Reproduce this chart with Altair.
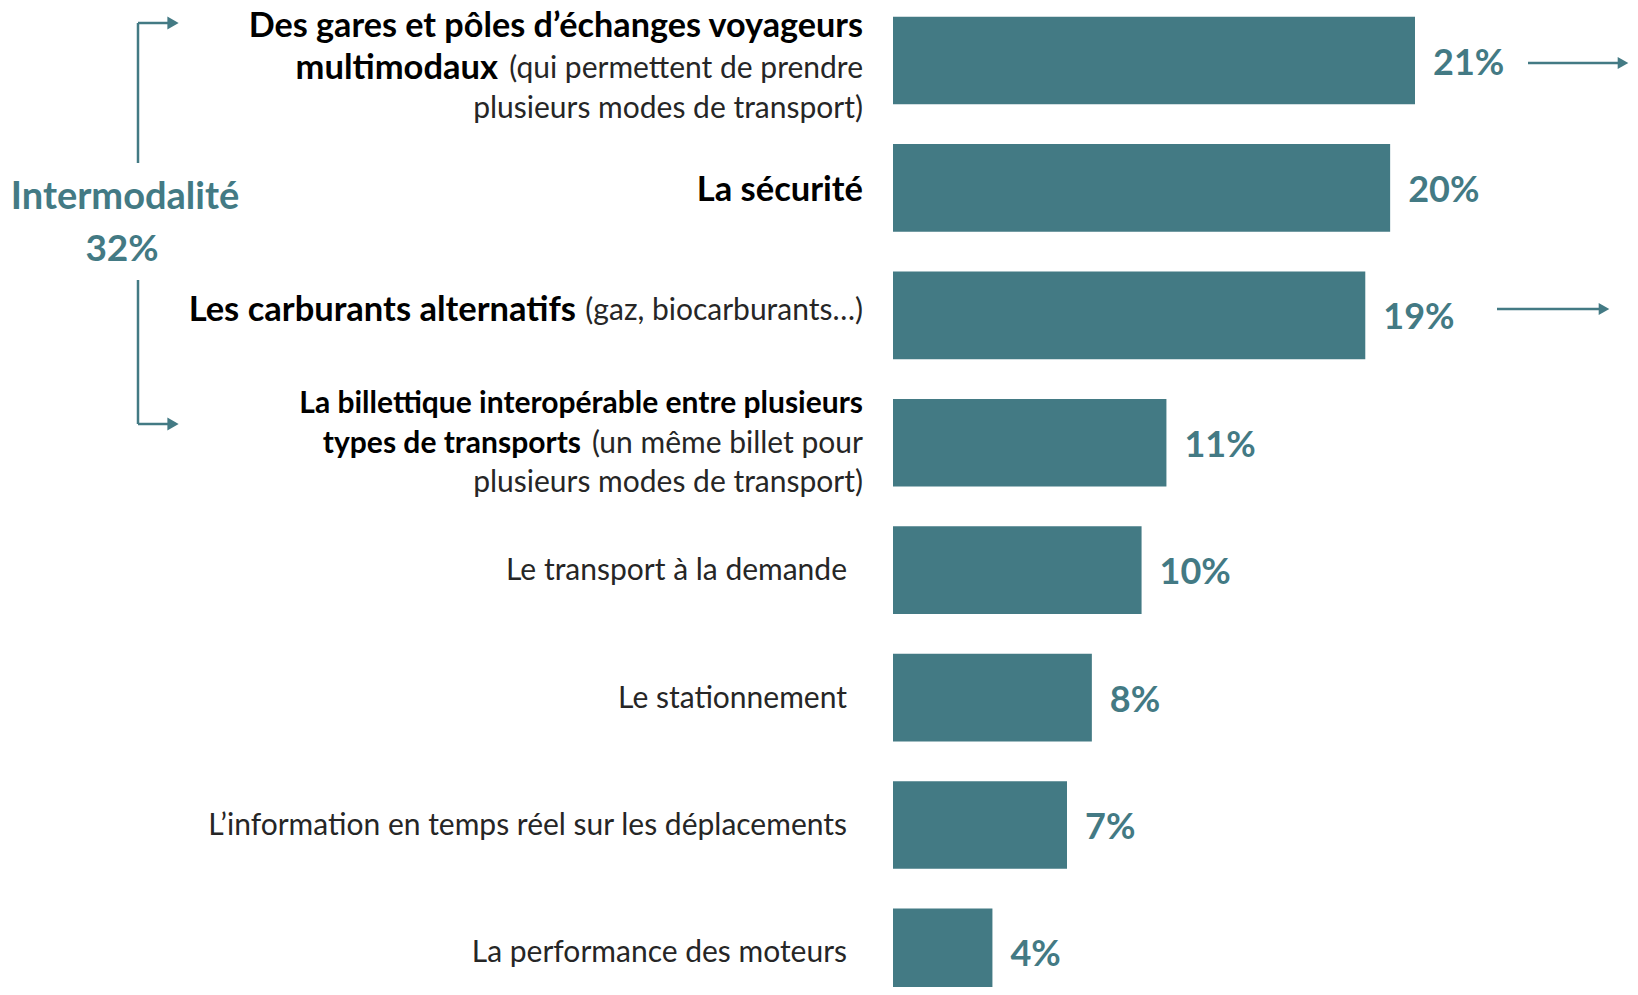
import altair as alt
import pandas as pd

# ---------------- data ----------------
categories = [
    "Des gares et pôles d’échanges voyageurs multimodaux",
    "La sécurité",
    "Les carburants alternatifs",
    "La billettique interopérable entre plusieurs types de transports",
    "Le transport à la demande",
    "Le stationnement",
    "L’information en temps réel sur les déplacements",
    "La performance des moteurs",
]
values = [21, 20, 19, 11, 10, 8, 7, 4]
value_labels = ["21%", "20%", "19%", "11%", "10%", "8%", "7%", "4%"]

group_title = "Intermodalité"
group_value = "32%"

# label pieces (category index, text, bold?)
label_lines = [
    (0, "Des gares et pôles d’échanges voyageurs", True),
    (0, "multimodaux", True),
    (0, "(qui permettent de prendre", False),
    (0, "plusieurs modes de transport)", False),
    (1, "La sécurité", True),
    (2, "Les carburants alternatifs", True),
    (2, "(gaz, biocarburants…)", False),
    (3, "La billettique interopérable entre plusieurs", True),
    (3, "types de transports", True),
    (3, "(un même billet pour", False),
    (3, "plusieurs modes de transport)", False),
    (4, "Le transport à la demande", False),
    (5, "Le stationnement", False),
    (6, "L’information en temps réel sur les déplacements", False),
    (7, "La performance des moteurs", False),
]

# ---------------- style / layout ----------------
TEAL = "#437A84"
FONT = "Lato"
W, H = 1622, 979

# layout per piece: (x, dy, align, fontSize)
piece_layout = [
    (855, -34, "right", 34.2),
    (490, 8.5, "right", 34.5),
    (855, 8.5, "right", 30),
    (855, 48.5, "right", 30),
    (855, 3, "right", 34.5),
    (568, -4, "right", 34.5),
    (855, -4, "right", 30),
    (855, -38.5, "right", 30),
    (573, 1, "right", 30),
    (855, 1, "right", 30),
    (855, 40, "right", 30),
    (839, 1, "right", 30),
    (839, 1, "right", 30),
    (839, 1, "right", 30),
    (839, 1, "right", 30),
]

df = pd.DataFrame({"cat": categories, "value": values, "label": value_labels})

yscale = alt.Scale(domain=categories, range=[8.7, 988.2], paddingInner=0.312, paddingOuter=0)
xscale = alt.Scale(domain=[0, 21], range=[885, 1407], nice=False, zero=True)

Y = alt.Y("cat:N", scale=yscale, axis=None, sort=categories)

bars = alt.Chart(df).mark_bar(color=TEAL).encode(
    y=Y,
    x=alt.X("value:Q", scale=xscale, axis=None),
)

pct = alt.Chart(df).mark_text(
    align="left", baseline="middle", dx=18, dy=3,
    font=FONT, fontSize=36, fontWeight="bold", color=TEAL,
).encode(
    y=Y,
    x=alt.X("value:Q", scale=xscale, axis=None),
    text="label:N",
)

layers = [bars, pct]

for (ci, txt, bold), (px, dy, align, fs) in zip(label_lines, piece_layout):
    d = pd.DataFrame({"cat": [categories[ci]], "t": [txt]})
    layers.append(
        alt.Chart(d).mark_text(
            align=align, baseline="middle", dy=dy,
            font=FONT, fontSize=fs,
            fontWeight="bold" if bold else "normal",
            color="#000000" if bold else "#262626",
        ).encode(y=Y, x=alt.value(px), text="t:N")
    )

# group annotation text
layers.append(
    alt.Chart(pd.DataFrame({"t": [group_title]})).mark_text(
        align="center", baseline="middle", font=FONT, fontSize=38,
        fontWeight="bold", color=TEAL,
    ).encode(x=alt.value(117), y=alt.value(190), text="t:N")
)
layers.append(
    alt.Chart(pd.DataFrame({"t": [group_value]})).mark_text(
        align="center", baseline="middle", font=FONT, fontSize=37,
        fontWeight="bold", color=TEAL,
    ).encode(x=alt.value(114), y=alt.value(242), text="t:N")
)

# bracket lines
def rule(x1, y1, x2, y2, w=2.5):
    return alt.Chart(pd.DataFrame({"a": [0]})).mark_rule(
        color=TEAL, strokeWidth=w
    ).encode(x=alt.value(x1), x2=alt.value(x2), y=alt.value(y1), y2=alt.value(y2))

def head(x, y, size=170):
    return alt.Chart(pd.DataFrame({"a": [0]})).mark_point(
        shape="triangle-right", filled=True, size=size, color=TEAL, opacity=1
    ).encode(x=alt.value(x), y=alt.value(y))

layers += [
    rule(130, 15, 130, 155),
    rule(130, 15, 160, 15),
    head(165, 15),
    rule(130, 272, 130, 416),
    rule(130, 416, 160, 416),
    head(165, 416),
    # right-hand arrows
    rule(1520, 55, 1612, 55),
    head(1615, 55, 150),
    rule(1489, 301, 1592, 301),
    head(1596, 301, 150),
]

chart = alt.layer(*layers).properties(
    width=W, height=H, padding=0, autosize="none", background="white"
).configure_view(stroke=None)

chart.save("out.html", embed_options={"renderer": "svg", "actions": False})
